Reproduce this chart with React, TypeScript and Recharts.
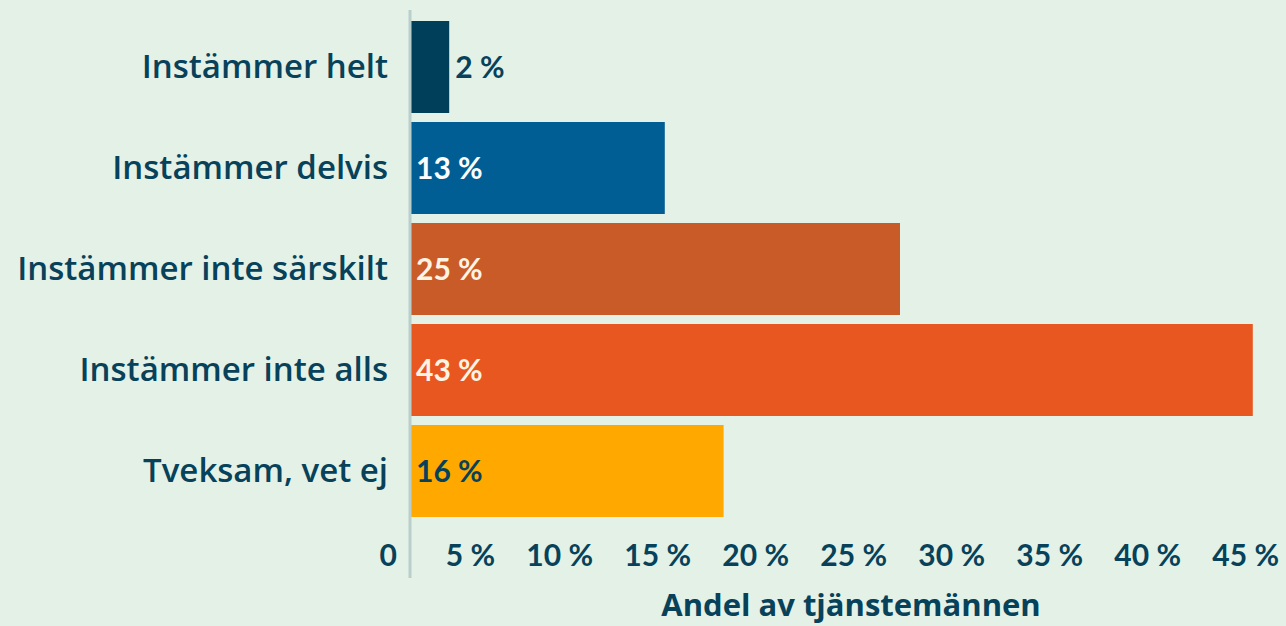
import { Bar, BarChart, Cell, LabelList, XAxis, YAxis } from "recharts";

const categories = [
  "Instämmer helt",
  "Instämmer delvis",
  "Instämmer inte särskilt",
  "Instämmer inte alls",
  "Tveksam, vet ej"
];
const shares = [2, 13, 25, 43, 16];
const xTicks = [0, 5, 10, 15, 20, 25, 30, 35, 40, 45];

const barColors = ["#003f5a", "#005e94", "#c85b28", "#e85720", "#ffa800"];
const labelColors = ["#07425a", "#ffffff", "#fff4e4", "#fff4e4", "#07425a"];
const ink = "#07425a";
const font = "Lato, 'Open Sans', sans-serif";
const wideFont = "'Open Sans', Lato, sans-serif";

const data = categories.map((name, i) => ({ name, value: shares[i] }));

function BarValue(props: any) {
  const { x, y, width, height, value, index } = props;
  const outside = width < 60;
  return (
    <text
      x={outside ? x + width + 6 : x + 6}
      y={y + height / 2 + 11}
      fill={labelColors[index]}
      fontSize={30}
      fontWeight={700}
      fontFamily={font}
    >
      {value} %
    </text>
  );
}

function XTick({ x, y, payload }: any) {
  return (
    <text x={x - 13} y={y - 12} textAnchor="end" fill={ink} fontSize={30} fontWeight={700} fontFamily={font}>
      {payload.value === 0 ? "0" : `${payload.value} %`}
    </text>
  );
}

export default function App() {
  return (
    <div style={{ position: "absolute", left: 0, top: 0, width: 1286, height: 626, overflow: "hidden", background: "#e4f1e6" }}>
      <BarChart width={1300} height={626} data={data} layout="vertical" margin={{ top: 10, right: 8, bottom: 0, left: 0 }}>
        <XAxis
          type="number"
          domain={[0, 45]}
          ticks={xTicks}
          interval={0}
          height={48}
          axisLine={false}
          tickLine={false}
          tickSize={0}
          tickMargin={0}
          tick={<XTick />}
          label={{ value: "Andel av tjänstemännen", position: "insideBottom", offset: 10, fill: ink, fontSize: 31, fontWeight: 700, fontFamily: wideFont }}
        />
        <YAxis
          type="category"
          dataKey="name"
          width={410}
          padding={{ top: 6, bottom: 57 }}
          axisLine={{ stroke: "#b8cfcb", strokeWidth: 3 }}
          tickLine={false}
          tickSize={0}
          tickMargin={22}
          tick={{ fill: ink, fontSize: 33, fontWeight: 600, fontFamily: wideFont }}
        />
        <Bar dataKey="value" barSize={92} isAnimationActive={false}>
          {data.map((d, i) => (
            <Cell key={d.name} fill={barColors[i]} />
          ))}
          <LabelList dataKey="value" content={<BarValue />} />
        </Bar>
      </BarChart>
    </div>
  );
}
